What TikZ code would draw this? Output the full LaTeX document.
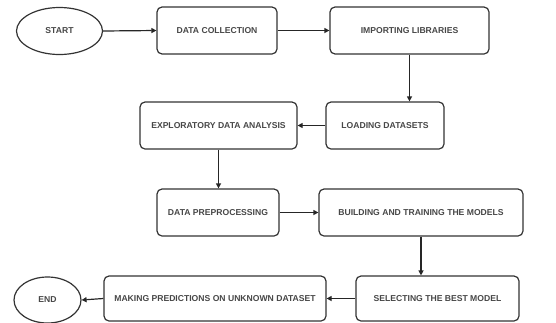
\documentclass[tikz,border=0pt]{standalone}
\usepackage{fontspec}
\setmainfont{Liberation Sans}
\usetikzlibrary{arrows.meta,shapes.geometric}
\begin{document}
\begin{tikzpicture}[x=1pt,y=-1pt,
  box/.style={draw=black!80,line width=1.2pt,rectangle,rounded corners=5pt,inner sep=0pt,align=center,font=\fontsize{8.6}{10}\selectfont\bfseries,text=black!72},
  oval/.style={draw=black!80,line width=1.2pt,ellipse,inner sep=0pt,align=center,font=\fontsize{8.6}{10}\selectfont\bfseries,text=black!72},
  conn/.style={draw=black!85,line width=1.2pt,-{Triangle[length=5pt,width=5pt]}}]
\useasboundingbox (0,0) rectangle (556,322);
\node[oval,minimum width=86pt,minimum height=47pt] (start) at (59.5,31) {START};
\node[box,minimum width=120pt,minimum height=47pt] (dc) at (217,30.5) {DATA COLLECTION};
\node[box,minimum width=159pt,minimum height=47pt] (il) at (409.5,30.5) {IMPORTING LIBRARIES};
\node[box,minimum width=157pt,minimum height=47pt] (eda) at (218.5,125.5) {EXPLORATORY DATA ANALYSIS};
\node[box,minimum width=118pt,minimum height=47pt] (ld) at (385,125.5) {LOADING DATASETS};
\node[box,minimum width=122pt,minimum height=47pt] (dp) at (218,212.5) {DATA PREPROCESSING};
\node[box,minimum width=204pt,minimum height=47pt] (bt) at (421,212.5) {BUILDING AND TRAINING THE MODELS};
\node[box,minimum width=163pt,minimum height=45pt] (sb) at (437.5,298.5) {SELECTING THE BEST MODEL};
\node[box,minimum width=222pt,minimum height=45pt] (mp) at (215,298.5) {MAKING PREDICTIONS ON UNKNOWN DATASET};
\node[oval,minimum width=67pt,minimum height=46pt] (end) at (47.5,300) {END};
\draw[conn] (start.east) -- (dc.west);
\draw[conn] (dc.east) -- (il.west);
\draw[conn] (il.south) -- (il.south |- ld.north);
\draw[conn] (ld.west) -- (eda.east);
\draw[conn] (eda.south) -- (eda.south |- dp.north);
\draw[conn] (dp.east) -- (bt.west);
\draw[conn] (bt.south) -- (bt.south |- sb.north);
\draw[conn] (sb.west) -- (mp.east);
\draw[conn] (mp.west) -- (end.east);
\end{tikzpicture}
\end{document}
